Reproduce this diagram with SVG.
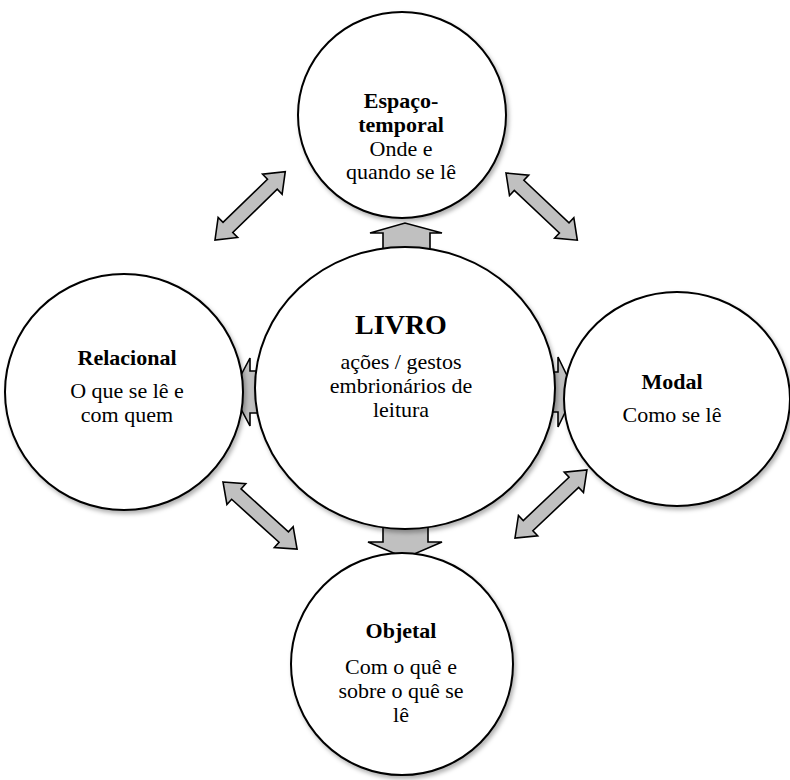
<svg xmlns="http://www.w3.org/2000/svg" width="790" height="780" viewBox="0 0 790 780">
<defs>
<filter id="sh" x="-10%" y="-10%" width="125%" height="125%">
<feDropShadow dx="2" dy="3" stdDeviation="2" flood-color="#000" flood-opacity="0.3"/>
</filter>
</defs>
<style>
.arr{fill:#c0c0c0;stroke:#000;stroke-width:1.6;stroke-linejoin:miter}
.node{fill:#fff;stroke:#000;stroke-width:2}
text{font-family:"Liberation Serif","Times New Roman",serif;font-size:22px;fill:#000;text-anchor:middle}
.b{font-weight:bold}
.big{font-size:28px;font-weight:bold}
</style>
<rect width="790" height="780" fill="#fff"/>
<g id="connectors">
<path class="arr" d="M0,0 L18,-14 L18,-7 L80,-7 L80,-14 L98,0 L80,14 L80,7 L18,7 L18,14 Z" transform="translate(215,240) rotate(-44.2)"/>
<path class="arr" d="M0,0 L18,-14 L18,-7 L80,-7 L80,-14 L98,0 L80,14 L80,7 L18,7 L18,14 Z" transform="translate(506,173) rotate(43.3)"/>
<path class="arr" d="M0,0 L18,-14 L18,-7 L82,-7 L82,-14 L100,0 L82,14 L82,7 L18,7 L18,14 Z" transform="translate(223,482) rotate(42.2)"/>
<path class="arr" d="M0,0 L18,-14 L18,-7 L81,-7 L81,-14 L99,0 L81,14 L81,7 L18,7 L18,14 Z" transform="translate(515,538) rotate(-43.4)"/>
<path class="arr" d="M370,233 L405,223 L442,233 L430,233 L430,250 L383,250 L383,233 Z"/>
<path class="arr" d="M383,525 L383,542 L368,542 L405,558 L442,542 L428,542 L428,525 Z"/>
<path class="arr" d="M232,392 L250,358 L250,371 L270,371 L270,413 L250,413 L250,426 Z"/>
<path class="arr" d="M575,392 L558,357 L558,372 L538,372 L538,412 L558,412 L558,427 Z"/>
</g>
<g id="espaco-temporal">
<ellipse class="node" filter="url(#sh)" cx="402" cy="115" rx="104" ry="103"/>
<text x="401" y="108" class="b">Espaço-</text>
<text x="401" y="132" class="b">temporal</text>
<text x="401" y="156">Onde e</text>
<text x="401" y="179">quando se lê</text>
</g>
<g id="relacional">
<ellipse class="node" filter="url(#sh)" cx="124" cy="392" rx="119" ry="118"/>
<text x="127" y="365" class="b">Relacional</text>
<text x="127" y="398">O que se lê e</text>
<text x="127" y="422">com quem</text>
</g>
<g id="modal">
<ellipse class="node" filter="url(#sh)" cx="677" cy="399" rx="113" ry="107"/>
<text x="672" y="389" class="b">Modal</text>
<text x="672" y="422">Como se lê</text>
</g>
<g id="objetal">
<ellipse class="node" filter="url(#sh)" cx="402" cy="664" rx="111" ry="111"/>
<text x="401" y="638" class="b">Objetal</text>
<text x="401" y="674">Com o quê e</text>
<text x="401" y="698">sobre o quê se</text>
<text x="401" y="722">lê</text>
</g>
<g id="livro">
<ellipse class="node" filter="url(#sh)" cx="405" cy="388" rx="150" ry="141"/>
<text x="401" y="334" class="big">LIVRO</text>
<text x="401" y="369">ações / gestos</text>
<text x="401" y="393">embrionários de</text>
<text x="401" y="417">leitura</text>
</g>
</svg>
